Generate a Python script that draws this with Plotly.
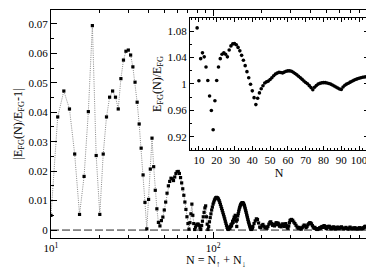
import plotly.graph_objects as go

# ---------------- data ----------------
# main panel: |E_FG(N)/E_FG - 1| versus N
N_low = list(range(10, 176))
dev_low = [
    0.0050, 0.0384, 0.0472, 0.0411, 0.0258, 0.0053, 0.0182, 0.0402, 0.0694, 0.0253,  # 10-19
    0.0053, 0.0258, 0.0384, 0.0451, 0.0472, 0.0451, 0.0411, 0.0514, 0.0577, 0.0607,  # 20-29
    0.0611, 0.0594, 0.0554, 0.0502, 0.0434, 0.0360, 0.0278, 0.0187, 0.0094, 0.0004,  # 30-39
    0.0104, 0.0207, 0.0312, 0.0215, 0.0135, 0.0072, 0.0026, 0.0014, 0.0032, 0.0044,  # 40-49
    0.0068, 0.0095, 0.0125, 0.0150, 0.0165, 0.0176, 0.0174, 0.0168, 0.0180, 0.0192,  # 50-59
    0.0198, 0.0199, 0.0192, 0.0178, 0.0160, 0.0140, 0.0118, 0.0095, 0.0070, 0.0045,  # 60-69
    0.0022, 0.0003, 0.0025, 0.0055, 0.0088, 0.0050, 0.0022, 0.0002, 0.0010, 0.0017,  # 70-79
    0.0020, 0.0020, 0.0016, 0.0008, 0.0002, 0.0015, 0.0030, 0.0045, 0.0060, 0.0075,  # 80-89
    0.0082, 0.0045, 0.0020, 0.0002, 0.0012, 0.0028, 0.0042, 0.0055, 0.0068, 0.0078,  # 90-99
    0.0088, 0.0095, 0.0102, 0.0106, 0.0110, 0.0111, 0.0110, 0.0108, 0.0105, 0.0100,  # 100-109
    0.0094, 0.0087, 0.0080, 0.0073, 0.0066, 0.0059, 0.0052, 0.0045, 0.0038, 0.0030,  # 110-119
    0.0023, 0.0016, 0.0009, 0.0004, 0.0002, 0.0005, 0.0010, 0.0006, 0.0012, 0.0018,  # 120-129
    0.0014, 0.0022, 0.0030, 0.0026, 0.0036, 0.0044, 0.0040, 0.0050, 0.0046, 0.0030,  # 130-139
    0.0012, 0.0035, 0.0048, 0.0056, 0.0064, 0.0071, 0.0077, 0.0082, 0.0086, 0.0089,  # 140-149
    0.0091, 0.0092, 0.0093, 0.0092, 0.0090, 0.0087, 0.0083, 0.0078, 0.0072, 0.0066,  # 150-159
    0.0060, 0.0054, 0.0048, 0.0042, 0.0036, 0.0030, 0.0025, 0.0020, 0.0015, 0.0011,  # 160-169
    0.0007, 0.0004, 0.0002, 0.0003, 0.0006, 0.0009,                                  # 170-175
]

N_mid = list(range(176, 300, 3))
dev_mid = [
    0.0012, 0.0022, 0.0031, 0.0038, 0.0036, 0.0024, 0.0010, 0.0008, 0.0015, 0.0019,
    0.0013, 0.0007, 0.0010, 0.0006, 0.0012, 0.0020, 0.0026, 0.0028, 0.0022, 0.0016,
    0.0019, 0.0014, 0.0020, 0.0025, 0.0018, 0.0024, 0.0021, 0.0013, 0.0017, 0.0011,
    0.0015, 0.0021, 0.0017, 0.0012, 0.0019, 0.0022, 0.0014, 0.0008, 0.0006, 0.0014,
    0.0025, 0.0032,
]

N_high = list(range(300, 600, 5))
dev_high = [
    0.0034, 0.0036, 0.0033, 0.0027, 0.0022, 0.0016, 0.0010, 0.0006, 0.0009, 0.0005,
    0.0003, 0.0008, 0.0013, 0.0017, 0.0014, 0.0008, 0.0012, 0.0018, 0.0022, 0.0025,
    0.0024, 0.0021, 0.0015, 0.0010, 0.0006, 0.0009, 0.0005, 0.0003, 0.0002, 0.0005,
    0.0004, 0.0008, 0.0006, 0.0010, 0.0012, 0.0009, 0.0013, 0.0015, 0.0012, 0.0008,
    0.0005, 0.0009, 0.0012, 0.0010, 0.0013, 0.0011, 0.0007, 0.0004, 0.0006, 0.0009,
    0.0007, 0.0011, 0.0008, 0.0005, 0.0003, 0.0006, 0.0009, 0.0006, 0.0010, 0.0008,
]

N_top = list(range(600, 1061, 10))
dev_top = [
    0.0005, 0.0008, 0.0011, 0.0007, 0.0004, 0.0006, 0.0009, 0.0005, 0.0003, 0.0007,
    0.0010, 0.0006, 0.0004, 0.0007, 0.0005, 0.0008, 0.0004, 0.0006, 0.0003, 0.0005,
    0.0008, 0.0006, 0.0004, 0.0007, 0.0005, 0.0008, 0.0011, 0.0013, 0.0012, 0.0008,
    0.0005, 0.0004, 0.0007, 0.0005, 0.0003, 0.0006, 0.0004, 0.0007, 0.0009, 0.0006,
    0.0004, 0.0007, 0.0005, 0.0008, 0.0006, 0.0004, 0.0007,
]

# inset: E_FG(N)/E_FG versus N
N_inset = list(range(9, 105))
ratio_inset = [
    1.0850,
    1.0050, 1.0384, 1.0472, 1.0411, 1.0258, 1.0053, 0.9818, 0.9598, 0.9306, 0.9747,  # 10-19
    1.0053, 1.0258, 1.0384, 1.0451, 1.0472, 1.0451, 1.0411, 1.0514, 1.0577, 1.0607,  # 20-29
    1.0611, 1.0594, 1.0554, 1.0502, 1.0434, 1.0360, 1.0278, 1.0187, 1.0094, 0.9996,  # 30-39
    0.9896, 0.9793, 0.9688, 0.9785, 0.9865, 0.9928, 0.9974, 1.0014, 1.0032, 1.0044,  # 40-49
    1.0068, 1.0095, 1.0125, 1.0150, 1.0165, 1.0176, 1.0174, 1.0168, 1.0180, 1.0192,  # 50-59
    1.0198, 1.0199, 1.0192, 1.0178, 1.0160, 1.0140, 1.0118, 1.0095, 1.0070, 1.0045,  # 60-69
    1.0022, 1.0003, 0.9975, 0.9945, 0.9912, 0.9950, 0.9978, 0.9998, 1.0010, 1.0017,  # 70-79
    1.0020, 1.0020, 1.0016, 1.0008, 0.9998, 0.9985, 0.9970, 0.9955, 0.9940, 0.9925,  # 80-89
    0.9918, 0.9955, 0.9980, 0.9998, 1.0012, 1.0028, 1.0042, 1.0055, 1.0068, 1.0078,  # 90-99
    1.0088, 1.0095, 1.0102, 1.0106, 1.0110,                                          # 100-104
]

x_tickvals = [10, 100, 1000]
x_ticktext = ["10<sup>1</sup>", "10<sup>2</sup>", "10<sup>3</sup>"]
inset_ytickvals = [0.92, 0.96, 1.0, 1.04, 1.08]
inset_yticktext = ["0.92", "0.96", "1", "1.04", "1.08"]

N_main = N_low + N_mid + N_high + N_top
dev_main = dev_low + dev_mid + dev_high + dev_top

FONT = "Liberation Serif, Times New Roman, serif"

fig = go.Figure()
fig.add_trace(go.Scatter(
    x=N_main, y=dev_main, mode="lines+markers",
    line=dict(color="#8a8a8a", width=1, dash="1px,1.2px"),
    marker=dict(size=3.2, color="black", symbol="square"),
    xaxis="x", yaxis="y", showlegend=False,
))
fig.add_trace(go.Scatter(
    x=N_inset, y=ratio_inset, mode="markers",
    marker=dict(size=3.6, color="black"),
    xaxis="x2", yaxis="y2", showlegend=False,
))

fig.add_shape(type="line", xref="x domain", yref="y", x0=0, x1=1, y0=0, y1=0,
              line=dict(color="#222222", width=1, dash="8px,3px"), layer="below")

# x-axis title of the main panel placed as an annotation below the tick labels
fig.add_annotation(text="N = N<sub>↑</sub> + N<sub>↓</sub>", xref="paper", yref="paper",
                   x=0.5, y=-0.102, xanchor="center", yanchor="middle", showarrow=False,
                   font=dict(family=FONT, size=12, color="black"))

axis_common = dict(showline=True, linecolor="black", linewidth=1, mirror="ticks",
                   ticks="inside", tickcolor="black", showgrid=False, zeroline=False,
                   tickfont=dict(family=FONT, size=11, color="black"))

fig.update_layout(
    width=374, height=268,
    margin=dict(l=43, r=2, t=2, b=38),
    paper_bgcolor="white", plot_bgcolor="white",
    font=dict(family=FONT, size=11, color="black"),
    xaxis=dict(
        **axis_common, type="log", range=[1, 3.03], domain=[0, 1], anchor="y",
        tickvals=x_tickvals, ticktext=x_ticktext, ticklen=6, tickwidth=1,
        minor=dict(ticks="inside", ticklen=3, tickcolor="black", dtick="D1", showgrid=False),
    ),
    yaxis=dict(
        **axis_common, range=[-0.0027, 0.0747], domain=[0, 1], anchor="x",
        tick0=0, dtick=0.01, ticklen=6, tickwidth=1,
        minor=dict(ticks="inside", ticklen=3, tickcolor="black", dtick=0.005, showgrid=False),
        title=dict(text="|E<sub>FG</sub>(N)/E<sub>FG</sub>-1|", font=dict(family=FONT, size=12), standoff=3),
    ),
    xaxis2=dict(
        **axis_common, range=[5, 105], domain=[0.4225, 0.9635], anchor="y2",
        tick0=0, dtick=10, ticklen=4, tickwidth=1,
        minor=dict(ticks="inside", ticklen=2, tickcolor="black", dtick=2, showgrid=False),
        title=dict(text="N", font=dict(family=FONT, size=12), standoff=3),
    ),
    yaxis2=dict(
        **axis_common, range=[0.9, 1.1], domain=[0.386, 0.965], anchor="x2",
        tickvals=inset_ytickvals, ticktext=inset_yticktext, ticklen=4, tickwidth=1,
        minor=dict(ticks="inside", ticklen=2, tickcolor="black", tick0=0.9, dtick=0.02, showgrid=False),
        title=dict(text="E<sub>FG</sub>(N)/E<sub>FG</sub>", font=dict(family=FONT, size=12), standoff=3),
    ),
)

fig.write_html("out.html")
